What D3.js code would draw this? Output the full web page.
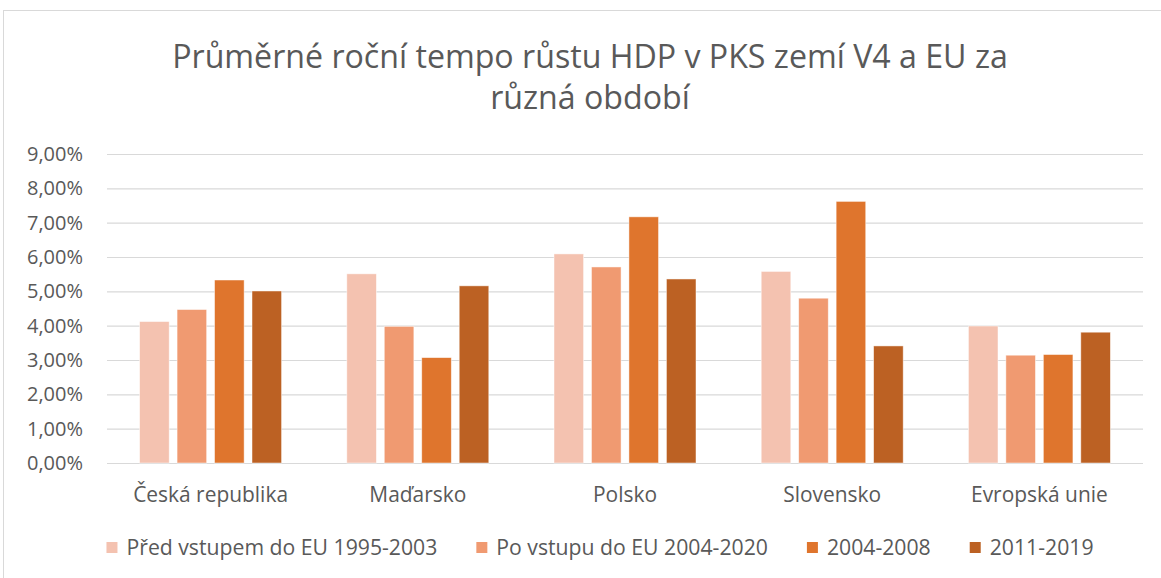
<!DOCTYPE html>
<html>
<head>
<meta charset="utf-8">
<script src="https://cdn.jsdelivr.net/npm/d3@7"></script>
<style>
  body { margin: 0; background: #fff; }
  svg { display: block; font-family: "Open Sans", sans-serif; }
</style>
</head>
<body>
<svg width="1161" height="578"></svg>
<script>
// data
const categories = ["Česká republika", "Maďarsko", "Polsko", "Slovensko", "Evropská unie"];
const seriesNames = ["Před vstupem do EU 1995-2003", "Po vstupu do EU 2004-2020", "2004-2008", "2011-2019"];
const pred = [4.12, 5.51, 6.09, 5.58, 3.99];
const po = [4.47, 3.98, 5.71, 4.80, 3.14];
const y0408 = [5.33, 3.07, 7.17, 7.62, 3.16];
const y1119 = [5.01, 5.16, 5.36, 3.41, 3.81];
const yTicks = [0, 1, 2, 3, 4, 5, 6, 7, 8, 9];
const colors = ["#F4C2B0", "#F09A71", "#DF752D", "#BC6123"];
const titleLines = ["Průměrné roční tempo růstu HDP v PKS zemí V4 a EU za", "různá období"];

const seriesValues = [pred, po, y0408, y1119];

const svg = d3.select("svg");
const width = +svg.attr("width");
const height = +svg.attr("height");

// velikost písma podle cílové šířky textu
function fitSize(sel, base, targetW) {
  const w = sel.node().getComputedTextLength();
  return base * targetW / w;
}

// chart frame
svg.append("rect")
  .attr("x", 3.5).attr("y", 10.5)
  .attr("width", width + 20).attr("height", height)
  .attr("fill", "#fff").attr("stroke", "#d9d9d9");

const margin = { left: 107, right: 18, top: 154, bottom: 115 };
const plotW = width - margin.left - margin.right;
const plotH = height - margin.top - margin.bottom;

const g = svg.append("g").attr("transform", `translate(${margin.left},${margin.top})`);

// scales
const x0 = d3.scaleBand().domain(categories).range([0, plotW]);
const x1 = d3.scaleBand().domain(d3.range(seriesNames.length)).range([-71, 71]).paddingInner(0.21);
const y = d3.scaleLinear().domain([0, 9]).range([plotH, 0]);

// gridlines + y labels
const yAxis = g.append("g")
  .call(d3.axisLeft(y)
    .tickValues(yTicks)
    .tickSize(-plotW)
    .tickPadding(24)
    .tickFormat(d => d.toFixed(2).replace(".", ",") + "%"));
yAxis.select(".domain").remove();
yAxis.selectAll(".tick line").attr("stroke", "#d9d9d9").attr("stroke-width", 1.2);
const yTexts = yAxis.selectAll(".tick text")
  .attr("fill", "#595959")
  .style("font-size", "20px")
  .style("font-family", "'Open Sans', sans-serif");
const ySize = fitSize(yTexts.filter(d => d === 9), 20, 56);
yTexts.style("font-size", ySize + "px");

// bars
const groups = g.selectAll(".cat")
  .data(categories)
  .join("g")
  .attr("transform", d => `translate(${x0(d) + x0.bandwidth() / 2},0)`);

groups.selectAll("rect")
  .data((c, i) => seriesValues.map((vals, s) => ({ s, v: vals[i] })))
  .join("rect")
  .attr("x", d => x1(d.s))
  .attr("width", x1.bandwidth())
  .attr("y", d => y(d.v))
  .attr("height", d => y(0) - y(d.v))
  .attr("fill", d => colors[d.s])
  .attr("stroke", "#fff")
  .attr("stroke-opacity", 0.6)
  .attr("stroke-width", 0.8);

// x labels
const xAxis = g.append("g")
  .attr("transform", `translate(0,${plotH})`)
  .call(d3.axisBottom(x0).tickSize(0).tickPadding(24));
xAxis.select(".domain").remove();
const xTexts = xAxis.selectAll(".tick text")
  .attr("fill", "#595959")
  .style("font-size", "20px")
  .style("font-family", "'Open Sans', sans-serif");
const xSize = fitSize(xTexts.filter(d => d === categories[0]), 20, 155);
xTexts.style("font-size", xSize + "px");

// title
const title = svg.append("text")
  .attr("text-anchor", "middle")
  .attr("fill", "#595959")
  .style("font-size", "28px");
titleLines.forEach((t, i) => {
  title.append("tspan")
    .attr("x", 590)
    .attr("y", 68 + i * 41)
    .text(t);
});
title.style("font-size", fitSize(title.select("tspan"), 28, 836) + "px");

// legend
const legend = svg.append("g").attr("transform", "translate(0,548)");
const items = legend.selectAll("g")
  .data(seriesNames)
  .join("g");
items.append("rect")
  .attr("y", -6).attr("width", 11).attr("height", 11)
  .attr("fill", (d, i) => colors[i]);
const legTexts = items.append("text")
  .attr("x", 20)
  .attr("dy", "0.35em")
  .attr("fill", "#595959")
  .style("font-size", "20px")
  .text(d => d);
legTexts.style("font-size", fitSize(legTexts.filter((d, i) => i === 0), 20, 311) + "px");
let cx = 0;
const pos = [];
items.each(function () {
  const w = d3.select(this).select("text").node().getComputedTextLength() + 20;
  pos.push(cx);
  cx += w + 39;
});
const total = cx - 39;
const startX = 600 - total / 2;
items.attr("transform", (d, i) => `translate(${startX + pos[i]},0)`);
</script>
</body>
</html>
